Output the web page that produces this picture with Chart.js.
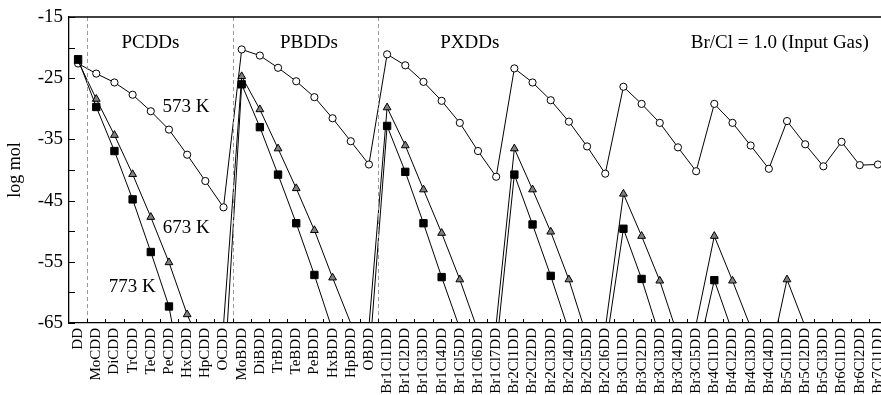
<!DOCTYPE html>
<html>
<head>
<meta charset="utf-8">
<script src="https://cdn.jsdelivr.net/npm/chart.js@4"></script>
<style>
  html, body { margin: 0; padding: 0; background: #fff; overflow: hidden; }
  #wrap { width: 881px; height: 395px; position: relative; }
</style>
</head>
<body>
<div id="wrap"><canvas id="c" width="881" height="395"></canvas></div>
<script>
const categories = [
  'DD','MoCDD','DiCDD','TrCDD','TeCDD','PeCDD','HxCDD','HpCDD','OCDD',
  'MoBDD','DiBDD','TrBDD','TeBDD','PeBDD','HxBDD','HpBDD','OBDD',
  'Br1Cl1DD','Br1Cl2DD','Br1Cl3DD','Br1Cl4DD','Br1Cl5DD','Br1Cl6DD','Br1Cl7DD',
  'Br2Cl1DD','Br2Cl2DD','Br2Cl3DD','Br2Cl4DD','Br2Cl5DD','Br2Cl6DD',
  'Br3Cl1DD','Br3Cl2DD','Br3Cl3DD','Br3Cl4DD','Br3Cl5DD',
  'Br4Cl1DD','Br4Cl2DD','Br4Cl3DD','Br4Cl4DD',
  'Br5Cl1DD','Br5Cl2DD','Br5Cl3DD',
  'Br6Cl1DD','Br6Cl2DD',
  'Br7Cl1DD'
];

// log mol values at 573 K (open circles)
const values573 = [
  -22.6,-24.25,-25.7,-27.7,-30.4,-33.4,-37.5,-41.8,-46.1,
  -20.3,-21.3,-23.3,-25.5,-28.1,-31.55,-35.3,-39.1,
  -21.1,-22.9,-25.6,-28.7,-32.3,-36.9,-41.1,
  -23.4,-25.7,-28.6,-32.1,-36.15,-40.6,
  -26.4,-29.2,-32.3,-36.3,-40.2,
  -29.2,-32.3,-36.0,-39.8,
  -32.0,-35.8,-39.4,
  -35.4,-39.2,
  -39.1
];

// log mol values at 673 K (grey triangles); values below -65 are off-scale estimates
const values673 = [
  -22.2,-28.4,-34.3,-40.7,-47.7,-55.1,-63.6,-70.5,-65.3,
  -24.7,-30.1,-36.5,-43.0,-49.85,-57.6,-65.05,-65.6,
  -29.8,-36.0,-43.2,-50.3,-57.9,-66.3,-65.2,
  -36.5,-43.2,-50.1,-57.9,-67.3,-66.0,
  -43.9,-50.8,-58.1,-67.1,-65.2,
  -50.8,-58.1,-65.7,-71.7,
  -57.9,-65.6,-73.0,
  -67.0,-75.0,
  -70.0
];

// log mol values at 773 K (black squares); values below -65 are off-scale estimates
const values773 = [
  -21.9,-29.7,-36.9,-44.8,-53.4,-62.3,-78.5,-82.0,-75.7,
  -26.0,-33.0,-40.75,-48.7,-57.15,-66.2,-72.0,-71.4,
  -32.8,-40.3,-48.7,-57.5,-65.9,-73.0,-69.4,
  -40.75,-48.9,-57.3,-66.3,-72.0,-69.5,
  -49.6,-57.8,-67.2,-74.0,-71.2,
  -58.0,-66.5,-75.0,-78.0,
  -67.5,-76.0,-82.0,
  -75.0,-83.0,
  -80.0
];

const yMin = -65, yMax = -15;
const yTickValues = [-15, -25, -35, -45, -55, -65];
const groupStarts = ['MoCDD', 'MoBDD', 'Br1Cl1DD'];

const annotations = [
  { text: 'PCDDs', cat: 3.98, val: -19.3 },
  { text: 'PBDDs', cat: 12.7, val: -19.3 },
  { text: 'PXDDs', cat: 21.55, val: -19.3 },
  { text: 'Br/Cl = 1.0 (Input Gas)', cat: 38.6, val: -19.3 },
  { text: '573 K', cat: 5.93, val: -29.75 },
  { text: '673 K', cat: 5.95, val: -49.4 },
  { text: '773 K', cat: 2.98, val: -59.1 }
];

const FONT = '"Liberation Serif", "Times New Roman", serif';

function toXY(arr) { return arr.map((v, i) => ({ x: i, y: v })); }
function radiusFor(r) {
  return (ctx) => (ctx.raw && ctx.raw.y < yMin) ? 0 : r;
}

const decor = {
  id: 'decor',
  afterDatasetsDraw(chart) {
    const { ctx, chartArea: a, scales } = chart;
    const xs = scales.x, ys = scales.y;
    ctx.save();
    // group separators (dashed)
    ctx.strokeStyle = '#9a9a9a';
    ctx.lineWidth = 1;
    ctx.setLineDash([4, 3]);
    groupStarts.forEach(name => {
      const idx = categories.indexOf(name);
      const px = Math.round(xs.getPixelForValue(idx - 0.5)) + 0.5;
      ctx.beginPath();
      ctx.moveTo(px, a.top);
      ctx.lineTo(px, a.bottom);
      ctx.stroke();
    });
    ctx.setLineDash([]);
    // top border
    ctx.strokeStyle = '#000';
    ctx.lineWidth = 1.3;
    ctx.beginPath();
    ctx.moveTo(a.left, a.top);
    ctx.lineTo(a.right, a.top);
    ctx.stroke();
    // inward y ticks every 5
    ctx.lineWidth = 1;
    for (let v = yMin; v <= yMax; v += 5) {
      const py = Math.round(ys.getPixelForValue(v)) + 0.5;
      ctx.beginPath();
      ctx.moveTo(a.left, py);
      ctx.lineTo(a.left + 6, py);
      ctx.stroke();
    }
    // inward x ticks at category boundaries
    for (let i = 0; i < categories.length; i++) {
      const px = Math.round(xs.getPixelForValue(i + 0.5)) + 0.5;
      if (px > a.right) continue;
      ctx.beginPath();
      ctx.moveTo(px, a.bottom);
      ctx.lineTo(px, a.bottom - 4);
      ctx.stroke();
    }
    // text annotations
    ctx.fillStyle = '#000';
    ctx.font = '19px ' + FONT;
    ctx.textAlign = 'center';
    ctx.textBaseline = 'middle';
    annotations.forEach(t => {
      ctx.fillText(t.text, xs.getPixelForValue(t.cat), ys.getPixelForValue(t.val));
    });
    ctx.restore();
  }
};

new Chart(document.getElementById('c'), {
  type: 'line',
  data: {
    datasets: [
      {
        label: '773 K',
        data: toXY(values773),
        borderColor: '#000',
        borderWidth: 1,
        backgroundColor: '#000',
        pointStyle: 'rect',
        pointRadius: radiusFor(5.2),
        pointBackgroundColor: '#000',
        pointBorderColor: '#000',
        pointBorderWidth: 1,
        tension: 0,
        clip: 0
      },
      {
        label: '673 K',
        data: toXY(values673),
        borderColor: '#000',
        borderWidth: 1,
        backgroundColor: '#808080',
        pointStyle: 'triangle',
        pointRadius: radiusFor(4.5),
        pointBackgroundColor: '#808080',
        pointBorderColor: '#000',
        pointBorderWidth: 1,
        tension: 0,
        clip: 0
      },
      {
        label: '573 K',
        data: toXY(values573),
        borderColor: '#000',
        borderWidth: 1,
        backgroundColor: '#fff',
        pointStyle: 'circle',
        pointRadius: radiusFor(3.6),
        pointBackgroundColor: '#fff',
        pointBorderColor: '#000',
        pointBorderWidth: 1,
        tension: 0,
        clip: 0
      }
    ]
  },
  options: {
    responsive: false,
    animation: false,
    devicePixelRatio: 1,
    layout: { autoPadding: false, padding: { top: 17, right: 0, left: 0, bottom: 0 } },
    plugins: {
      legend: { display: false },
      tooltip: { enabled: false }
    },
    scales: {
      x: {
        type: 'linear',
        min: -0.5,
        max: 44.17,
        grid: { display: false, drawTicks: false },
        border: { display: true, color: '#000', width: 1.3 },
        afterFit(scale) {
          scale.height = 72;
          scale.paddingLeft = 0;
          scale.paddingRight = 0;
        },
        afterBuildTicks(scale) {
          scale.ticks = categories.map((c, i) => ({ value: i }));
        },
        ticks: {
          autoSkip: false,
          minRotation: 90,
          maxRotation: 90,
          padding: 5,
          color: '#000',
          font: { family: FONT, size: 15 },
          callback: (v) => categories[Math.round(v)] || ''
        }
      },
      y: {
        min: yMin,
        max: yMax,
        grid: { display: false, drawTicks: false },
        border: { display: true, color: '#000', width: 1.3 },
        afterFit(scale) {
          scale.width = 69;
          scale.paddingTop = 0;
          scale.paddingBottom = 0;
        },
        afterBuildTicks(scale) {
          scale.ticks = yTickValues.map(v => ({ value: v }));
        },
        ticks: {
          padding: 6,
          color: '#000',
          font: { family: FONT, size: 19 },
          callback: (v) => String(v)
        },
        title: {
          display: true,
          text: 'log mol',
          color: '#000',
          font: { family: FONT, size: 18 },
          padding: { top: 4.5, bottom: 0 }
        }
      }
    }
  },
  plugins: [decor]
});
</script>
</body>
</html>
